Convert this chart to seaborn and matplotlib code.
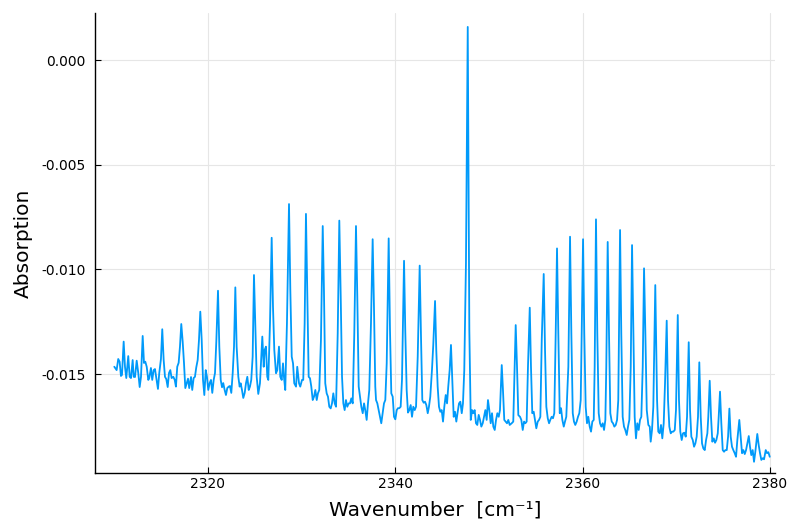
import matplotlib
matplotlib.use("Agg")
import matplotlib.pyplot as plt
import seaborn as sns
import pandas as pd
from matplotlib.ticker import FormatStrFormatter

# ---- data (wavenumber in cm^-1, absorption) ----
wavenumber = [
    2310.00, 2310.25, 2310.42, 2310.57, 2310.71, 2310.82, 2311.00, 2311.14, 2311.28, 2311.49,
    2311.64, 2311.78, 2311.96, 2312.07, 2312.21, 2312.39, 2312.56, 2312.71, 2312.85, 2313.03,
    2313.17, 2313.31, 2313.46, 2313.63, 2313.73, 2313.91, 2314.05, 2314.20, 2314.34, 2314.52,
    2314.66, 2314.80, 2314.98, 2315.12, 2315.27, 2315.41, 2315.55, 2315.70, 2315.84, 2315.98,
    2316.12, 2316.30, 2316.45, 2316.58, 2316.72, 2316.87, 2317.01, 2317.15, 2317.30, 2317.44,
    2317.58, 2317.73, 2317.87, 2318.00, 2318.19, 2318.32, 2318.47, 2318.61, 2318.75, 2318.90,
    2319.04, 2319.18, 2319.33, 2319.47, 2319.61, 2319.76, 2319.89, 2320.03, 2320.18, 2320.32,
    2320.46, 2320.61, 2320.75, 2320.89, 2321.07, 2321.21, 2321.36, 2321.50, 2321.63, 2321.78,
    2321.92, 2322.06, 2322.21, 2322.35, 2322.49, 2322.64, 2322.78, 2322.92, 2323.06, 2323.24,
    2323.38, 2323.49, 2323.63, 2323.77, 2323.92, 2324.06, 2324.20, 2324.35, 2324.48, 2324.62,
    2324.77, 2324.91, 2325.05, 2325.20, 2325.37, 2325.55, 2325.69, 2325.80, 2325.95, 2326.05,
    2326.19, 2326.33, 2326.44, 2326.62, 2326.80, 2326.94, 2327.08, 2327.26, 2327.40, 2327.58,
    2327.72, 2327.87, 2328.01, 2328.11, 2328.25, 2328.43, 2328.65, 2328.79, 2328.94, 2329.08,
    2329.21, 2329.40, 2329.53, 2329.72, 2329.85, 2330.04, 2330.17, 2330.32, 2330.46, 2330.60,
    2330.75, 2330.89, 2331.03, 2331.18, 2331.32, 2331.46, 2331.61, 2331.74, 2331.88, 2332.06,
    2332.25, 2332.38, 2332.52, 2332.67, 2332.81, 2332.95, 2333.10, 2333.24, 2333.38, 2333.53,
    2333.67, 2333.85, 2334.02, 2334.17, 2334.31, 2334.45, 2334.59, 2334.73, 2334.87, 2335.02,
    2335.16, 2335.30, 2335.45, 2335.62, 2335.80, 2335.94, 2336.09, 2336.23, 2336.37, 2336.52,
    2336.66, 2336.79, 2336.94, 2337.08, 2337.22, 2337.40, 2337.58, 2337.72, 2337.86, 2337.94,
    2338.08, 2338.22, 2338.36, 2338.50, 2338.65, 2338.79, 2338.93, 2339.08, 2339.29, 2339.43,
    2339.57, 2339.72, 2339.86, 2340.00, 2340.15, 2340.28, 2340.42, 2340.57, 2340.71, 2340.93,
    2341.06, 2341.21, 2341.35, 2341.49, 2341.64, 2341.78, 2341.92, 2342.07, 2342.21, 2342.39,
    2342.60, 2342.74, 2342.88, 2343.03, 2343.17, 2343.31, 2343.46, 2343.59, 2343.73, 2343.91,
    2344.05, 2344.24, 2344.37, 2344.52, 2344.66, 2344.80, 2344.95, 2345.09, 2345.23, 2345.38,
    2345.52, 2345.65, 2345.80, 2345.94, 2346.08, 2346.23, 2346.37, 2346.51, 2346.66, 2346.80,
    2346.94, 2347.09, 2347.22, 2347.36, 2347.54, 2347.73, 2347.90, 2348.05, 2348.19, 2348.32,
    2348.47, 2348.61, 2348.75, 2348.90, 2349.04, 2349.18, 2349.33, 2349.47, 2349.61, 2349.75,
    2349.89, 2350.03, 2350.18, 2350.32, 2350.46, 2350.61, 2350.75, 2350.89, 2351.04, 2351.17,
    2351.36, 2351.49, 2351.63, 2351.78, 2351.92, 2352.06, 2352.21, 2352.42, 2352.59, 2352.74,
    2352.85, 2352.99, 2353.13, 2353.31, 2353.45, 2353.60, 2353.74, 2353.88, 2354.02, 2354.16,
    2354.35, 2354.48, 2354.62, 2354.77, 2354.91, 2355.05, 2355.20, 2355.34, 2355.48, 2355.63,
    2355.84, 2355.98, 2356.12, 2356.27, 2356.41, 2356.54, 2356.69, 2356.83, 2356.97, 2357.12,
    2357.26, 2357.40, 2357.55, 2357.69, 2357.83, 2357.98, 2358.11, 2358.25, 2358.47, 2358.65,
    2358.79, 2358.94, 2359.07, 2359.21, 2359.36, 2359.50, 2359.64, 2359.79, 2360.04, 2360.17,
    2360.32, 2360.46, 2360.60, 2360.75, 2360.89, 2361.03, 2361.18, 2361.28, 2361.42, 2361.56,
    2361.71, 2361.85, 2361.99, 2362.14, 2362.28, 2362.42, 2362.52, 2362.67, 2362.81, 2362.95,
    2363.10, 2363.24, 2363.38, 2363.53, 2363.67, 2363.80, 2363.99, 2364.12, 2364.27, 2364.41,
    2364.55, 2364.70, 2364.84, 2364.98, 2365.13, 2365.27, 2365.41, 2365.55, 2365.69, 2365.83,
    2365.98, 2366.12, 2366.26, 2366.41, 2366.55, 2366.69, 2366.84, 2367.01, 2367.16, 2367.26,
    2367.40, 2367.54, 2367.75, 2367.94, 2368.07, 2368.22, 2368.36, 2368.50, 2368.65, 2368.79,
    2368.97, 2369.11, 2369.25, 2369.40, 2369.54, 2369.68, 2369.83, 2369.96, 2370.15, 2370.28,
    2370.42, 2370.57, 2370.71, 2370.85, 2371.00, 2371.14, 2371.32, 2371.46, 2371.60, 2371.75,
    2371.89, 2372.03, 2372.17, 2372.31, 2372.45, 2372.60, 2372.74, 2372.88, 2373.03, 2373.17,
    2373.31, 2373.41, 2373.56, 2373.70, 2373.84, 2373.99, 2374.13, 2374.27, 2374.42, 2374.52,
    2374.66, 2374.80, 2374.95, 2375.09, 2375.23, 2375.38, 2375.52, 2375.66, 2375.80, 2375.94,
    2376.08, 2376.23, 2376.37, 2376.51, 2376.72, 2376.87, 2377.01, 2377.15, 2377.30, 2377.44,
    2377.58, 2377.73, 2377.86, 2378.00, 2378.15, 2378.29, 2378.43, 2378.64, 2378.79, 2378.93,
    2379.07, 2379.22, 2379.36, 2379.54, 2379.68, 2379.82, 2379.97,
]

absorption = [
    -0.01465, -0.01481, -0.01428, -0.01441, -0.01509, -0.01504, -0.01345, -0.01465, -0.01519, -0.01414,
    -0.01513, -0.01519, -0.01433, -0.01513, -0.01514, -0.01436, -0.01495, -0.01562, -0.01513, -0.01318,
    -0.01447, -0.01441, -0.01465, -0.01528, -0.01519, -0.01471, -0.01528, -0.01481, -0.01476, -0.01528,
    -0.01571, -0.01495, -0.01428, -0.01286, -0.01433, -0.01513, -0.01524, -0.01562, -0.01495, -0.01481,
    -0.01519, -0.01513, -0.01528, -0.01560, -0.01465, -0.01446, -0.01369, -0.01261, -0.01345, -0.01447,
    -0.01567, -0.01543, -0.01522, -0.01567, -0.01514, -0.01576, -0.01519, -0.01513, -0.01468, -0.01433,
    -0.01337, -0.01202, -0.01337, -0.01528, -0.01600, -0.01481, -0.01513, -0.01576, -0.01543, -0.01528,
    -0.01590, -0.01528, -0.01495, -0.01345, -0.01102, -0.01369, -0.01528, -0.01563, -0.01543, -0.01576,
    -0.01600, -0.01567, -0.01560, -0.01557, -0.01590, -0.01495, -0.01369, -0.01086, -0.01369, -0.01513,
    -0.01560, -0.01544, -0.01576, -0.01614, -0.01590, -0.01543, -0.01513, -0.01576, -0.01560, -0.01528,
    -0.01417, -0.01027, -0.01258, -0.01513, -0.01595, -0.01544, -0.01417, -0.01321, -0.01465, -0.01385,
    -0.01369, -0.01513, -0.01528, -0.01258, -0.00849, -0.01178, -0.01385, -0.01496, -0.01481, -0.01369,
    -0.01513, -0.01528, -0.01449, -0.01513, -0.01576, -0.01258, -0.00688, -0.01098, -0.01417, -0.01449,
    -0.01544, -0.01560, -0.01465, -0.01544, -0.01560, -0.01528, -0.01528, -0.01258, -0.00735, -0.01098,
    -0.01513, -0.01520, -0.01560, -0.01624, -0.01608, -0.01576, -0.01624, -0.01592, -0.01576, -0.01337,
    -0.00793, -0.01098, -0.01544, -0.01592, -0.01608, -0.01656, -0.01664, -0.01640, -0.01592, -0.01640,
    -0.01656, -0.01305, -0.00767, -0.01130, -0.01513, -0.01640, -0.01672, -0.01624, -0.01656, -0.01640,
    -0.01640, -0.01616, -0.01640, -0.01305, -0.00793, -0.01130, -0.01560, -0.01608, -0.01656, -0.01687,
    -0.01640, -0.01672, -0.01719, -0.01640, -0.01576, -0.01258, -0.00856, -0.01178, -0.01560, -0.01624,
    -0.01640, -0.01672, -0.01704, -0.01735, -0.01687, -0.01640, -0.01624, -0.01449, -0.00852, -0.01290,
    -0.01592, -0.01608, -0.01704, -0.01716, -0.01672, -0.01663, -0.01663, -0.01656, -0.01528, -0.00959,
    -0.01290, -0.01576, -0.01684, -0.01672, -0.01648, -0.01704, -0.01656, -0.01672, -0.01656, -0.01417,
    -0.00982, -0.01321, -0.01624, -0.01637, -0.01632, -0.01648, -0.01687, -0.01656, -0.01608, -0.01481,
    -0.01361, -0.01151, -0.01385, -0.01560, -0.01656, -0.01680, -0.01672, -0.01727, -0.01656, -0.01600,
    -0.01640, -0.01560, -0.01481, -0.01361, -0.01528, -0.01704, -0.01680, -0.01727, -0.01680, -0.01640,
    -0.01632, -0.01687, -0.01640, -0.01481, -0.00970, 0.00158, -0.01290, -0.01719, -0.01672, -0.01687,
    -0.01672, -0.01735, -0.01743, -0.01695, -0.01719, -0.01751, -0.01735, -0.01704, -0.01672, -0.01719,
    -0.01624, -0.01672, -0.01735, -0.01687, -0.01751, -0.01767, -0.01719, -0.01687, -0.01704, -0.01672,
    -0.01457, -0.01576, -0.01719, -0.01727, -0.01735, -0.01719, -0.01743, -0.01735, -0.01727, -0.01465,
    -0.01266, -0.01465, -0.01696, -0.01704, -0.01719, -0.01767, -0.01727, -0.01735, -0.01727, -0.01465,
    -0.01183, -0.01465, -0.01687, -0.01680, -0.01719, -0.01759, -0.01727, -0.01719, -0.01704, -0.01337,
    -0.01022, -0.01385, -0.01656, -0.01711, -0.01735, -0.01719, -0.01704, -0.01711, -0.01687, -0.01305,
    -0.00900, -0.01305, -0.01687, -0.01663, -0.01719, -0.01751, -0.01727, -0.01704, -0.01465, -0.00844,
    -0.01305, -0.01687, -0.01727, -0.01743, -0.01727, -0.01704, -0.01687, -0.01624, -0.00856, -0.01305,
    -0.01656, -0.01735, -0.01704, -0.01751, -0.01775, -0.01727, -0.01719, -0.01465, -0.00761, -0.01305,
    -0.01687, -0.01735, -0.01751, -0.01735, -0.01767, -0.01719, -0.01465, -0.00869, -0.01305, -0.01687,
    -0.01727, -0.01735, -0.01751, -0.01743, -0.01719, -0.01624, -0.00812, -0.01305, -0.01704, -0.01751,
    -0.01767, -0.01791, -0.01751, -0.01719, -0.01465, -0.00884, -0.01305, -0.01704, -0.01807, -0.01735,
    -0.01767, -0.01719, -0.01704, -0.01465, -0.00995, -0.01305, -0.01672, -0.01743, -0.01751, -0.01823,
    -0.01767, -0.01656, -0.01075, -0.01624, -0.01775, -0.01783, -0.01743, -0.01807, -0.01735, -0.01544,
    -0.01245, -0.01624, -0.01751, -0.01783, -0.01775, -0.01775, -0.01767, -0.01672, -0.01218, -0.01624,
    -0.01775, -0.01815, -0.01783, -0.01780, -0.01799, -0.01704, -0.01348, -0.01672, -0.01799, -0.01815,
    -0.01847, -0.01831, -0.01799, -0.01704, -0.01444, -0.01704, -0.01831, -0.01855, -0.01863, -0.01815,
    -0.01783, -0.01704, -0.01532, -0.01704, -0.01823, -0.01807, -0.01828, -0.01815, -0.01783, -0.01704,
    -0.01584, -0.01735, -0.01863, -0.01871, -0.01863, -0.01863, -0.01799, -0.01665, -0.01799, -0.01847,
    -0.01863, -0.01878, -0.01895, -0.01815, -0.01719, -0.01799, -0.01878, -0.01863, -0.01882, -0.01863,
    -0.01831, -0.01796, -0.01847, -0.01887, -0.01863, -0.01919, -0.01871, -0.01786, -0.01839, -0.01878,
    -0.01910, -0.01902, -0.01907, -0.01863, -0.01878, -0.01873, -0.01895,
]

x_ticks = [2320, 2340, 2360, 2380]
y_ticks = [0.000, -0.005, -0.010, -0.015]

df = pd.DataFrame({"wavenumber": wavenumber, "absorption": absorption})

sns.set_theme(style="white")
plt.rcParams["font.family"] = ["DejaVu Sans"]
plt.rcParams["axes.unicode_minus"] = False

fig = plt.figure(figsize=(7.89, 5.20), dpi=100)
ax = fig.add_axes([95 / 789, 1 - 473 / 520, (775 - 95) / 789, (473 - 13) / 520])

sns.lineplot(data=df, x="wavenumber", y="absorption", ax=ax, color="#009AFA",
             linewidth=1.3, estimator=None, sort=False)

ax.set_xlim(2307.94, 2380.53)
ax.set_ylim(-0.019725, 0.002245)
ax.set_xticks(x_ticks)
ax.set_yticks(y_ticks)
ax.yaxis.set_major_formatter(FormatStrFormatter("%.3f"))

ax.grid(True, color="#e6e6e6", linewidth=0.8)
ax.set_axisbelow(True)
for side in ["top", "right"]:
    ax.spines[side].set_visible(False)
for side in ["left", "bottom"]:
    ax.spines[side].set_color("black")
    ax.spines[side].set_linewidth(1.0)

ax.tick_params(axis="both", direction="in", length=4, width=0.8, color="black",
               labelsize=10, labelcolor="black", bottom=True, left=True)
ax.tick_params(axis="y", pad=7)
ax.tick_params(axis="x", pad=3)

ax.set_xlabel("Wavenumber  [cm\u207b\u00b9]", fontsize=14.5, color="black", labelpad=7)
ax.set_ylabel("Absorption", fontsize=14.5, color="black", labelpad=6)

fig.savefig("out.png", dpi=100)
